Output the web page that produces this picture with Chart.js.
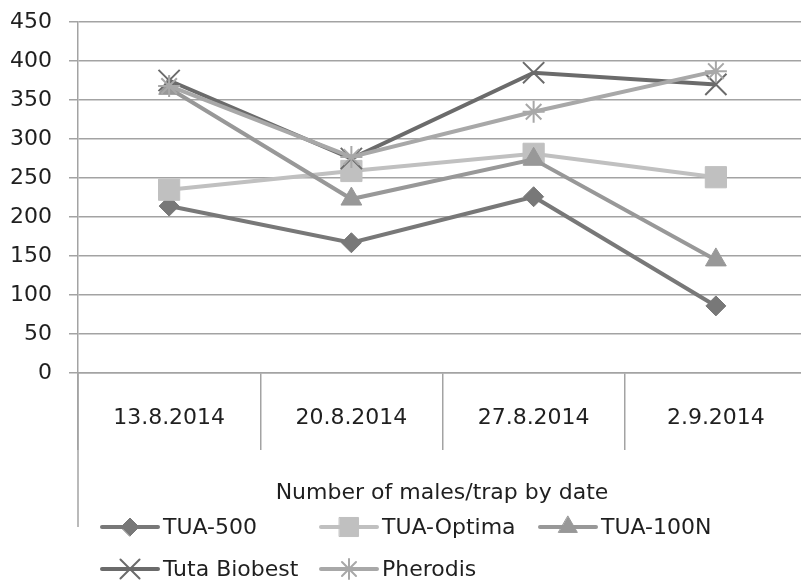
<!DOCTYPE html>
<html>
<head>
<meta charset="utf-8">
<script src="https://cdn.jsdelivr.net/npm/chart.js@4/dist/chart.umd.min.js"></script>
<style>
    html, body { margin: 0; padding: 0; background: #fff; overflow: hidden; }
    #trapChart { display: block; }
</style>
</head>
<body>
<canvas id="trapChart" width="824" height="580"></canvas>
<script>
// ===== DATA =====
var categories = ['13.8.2014', '20.8.2014', '27.8.2014', '2.9.2014'];
var tua500 = [214, 167, 226, 86];
var tuaOptima = [235, 259, 281, 251];
var tua100N = [365, 223, 274, 145];
var tutaBiobest = [375, 275, 385, 370];
var pherodis = [368, 277, 335, 387];
var yTicks = [0, 50, 100, 150, 200, 250, 300, 350, 400, 450];
var legendTitle = 'Number of males/trap by date';

var FONT = "'DejaVu Sans', sans-serif";
var TEXT = '#1f1f1f';
var GRID = '#a3a3a3';

// series look (Excel grey style)
var series = [
    { label: 'TUA-500', data: tua500, color: '#787878', style: 'rectRot', radius: 10, pbw: 1 },
    { label: 'TUA-Optima', data: tuaOptima, color: '#c0c0c0', style: 'rect', radius: 15, pbw: 1 },
    { label: 'TUA-100N', data: tua100N, color: '#989898', style: 'triangle', radius: 12, pbw: 1 },
    { label: 'Tuta Biobest', data: tutaBiobest, color: '#6b6b6b', style: 'crossRot', radius: 15, pbw: 2 },
    { label: 'Pherodis', data: pherodis, color: '#a8a8a8', style: 'star', radius: 11, pbw: 2 }
];

// ===== CUSTOM LEGEND + AXIS EXTRAS =====
var extrasPlugin = {
    id: 'extras',
    afterDraw: function(chart) {
        var ctx = chart.ctx;
        var area = chart.chartArea;
        ctx.save();

        // vertical axis line continues down past the category labels
        ctx.strokeStyle = GRID;
        ctx.lineWidth = 1.5;
        ctx.beginPath();
        ctx.moveTo(area.left, area.bottom);
        ctx.lineTo(area.left, 527);
        ctx.stroke();

        // legend title
        ctx.fillStyle = TEXT;
        ctx.font = '22px ' + FONT;
        ctx.textAlign = 'center';
        ctx.textBaseline = 'middle';
        ctx.fillText(legendTitle, 442, 493);

        // legend entries in fixed columns
        var colX = [102, 321, 540];
        var rowY = [527, 569];
        ctx.textAlign = 'left';
        series.forEach(function(s, i) {
            var x = colX[i % 3];
            var y = rowY[Math.floor(i / 3)];
            ctx.strokeStyle = s.color;
            ctx.fillStyle = s.color;
            ctx.lineWidth = 4;
            ctx.lineCap = 'round';
            ctx.beginPath();
            ctx.moveTo(x, y);
            ctx.lineTo(x + 56, y);
            ctx.stroke();
            ctx.lineWidth = s.pbw;
            if (Chart.helpers && Chart.helpers.drawPoint) {
                Chart.helpers.drawPoint(ctx, {
                    pointStyle: s.style, rotation: 0,
                    radius: s.radius * 0.9, borderWidth: s.pbw
                }, x + 28, y);
            }
            ctx.fillStyle = TEXT;
            ctx.fillText(s.label, x + 61, y + 1);
        });
        ctx.restore();
    }
};

// ===== CHART =====
function initTrapChart() {
    var ctx = document.getElementById('trapChart').getContext('2d');
    new Chart(ctx, {
        type: 'line',
        data: {
            labels: categories,
            datasets: series.map(function(s, i) {
                return {
                    label: s.label,
                    data: s.data,
                    borderColor: s.color,
                    backgroundColor: s.color,
                    borderWidth: 4,
                    pointStyle: s.style,
                    pointRadius: s.radius,
                    pointBorderWidth: s.pbw,
                    pointBackgroundColor: s.color,
                    pointBorderColor: s.color,
                    tension: 0,
                    fill: false,
                    clip: false,
                    order: series.length - i
                };
            })
        },
        options: {
            responsive: false,
            animation: false,
            layout: { padding: { top: 22, left: 0, right: 0, bottom: 0 } },
            plugins: {
                legend: { display: false },
                tooltip: { enabled: false }
            },
            scales: {
                x: {
                    offset: true,
                    grid: {
                        offset: true,
                        drawOnChartArea: false,
                        tickLength: 77,
                        color: GRID,
                        lineWidth: 1.5
                    },
                    border: { color: GRID, width: 1.5 },
                    ticks: {
                        padding: -45,
                        color: TEXT,
                        font: { family: FONT, size: 22 },
                        maxRotation: 0
                    },
                    afterFit: function(scale) {
                        scale.height = 207;
                        scale.paddingLeft = 0;
                        scale.paddingRight = 0;
                    }
                },
                y: {
                    min: yTicks[0],
                    max: yTicks[yTicks.length - 1],
                    grid: {
                        color: GRID,
                        lineWidth: 1.5,
                        tickLength: 9
                    },
                    border: { color: GRID, width: 1.5 },
                    ticks: {
                        stepSize: yTicks[1] - yTicks[0],
                        padding: 17,
                        color: TEXT,
                        font: { family: FONT, size: 22 }
                    },
                    afterFit: function(scale) {
                        scale.width = 78;
                        scale.paddingTop = 0;
                        scale.paddingBottom = 0;
                    }
                }
            }
        },
        plugins: [extrasPlugin]
    });
}

document.addEventListener('DOMContentLoaded', initTrapChart);
</script>
</body>
</html>
